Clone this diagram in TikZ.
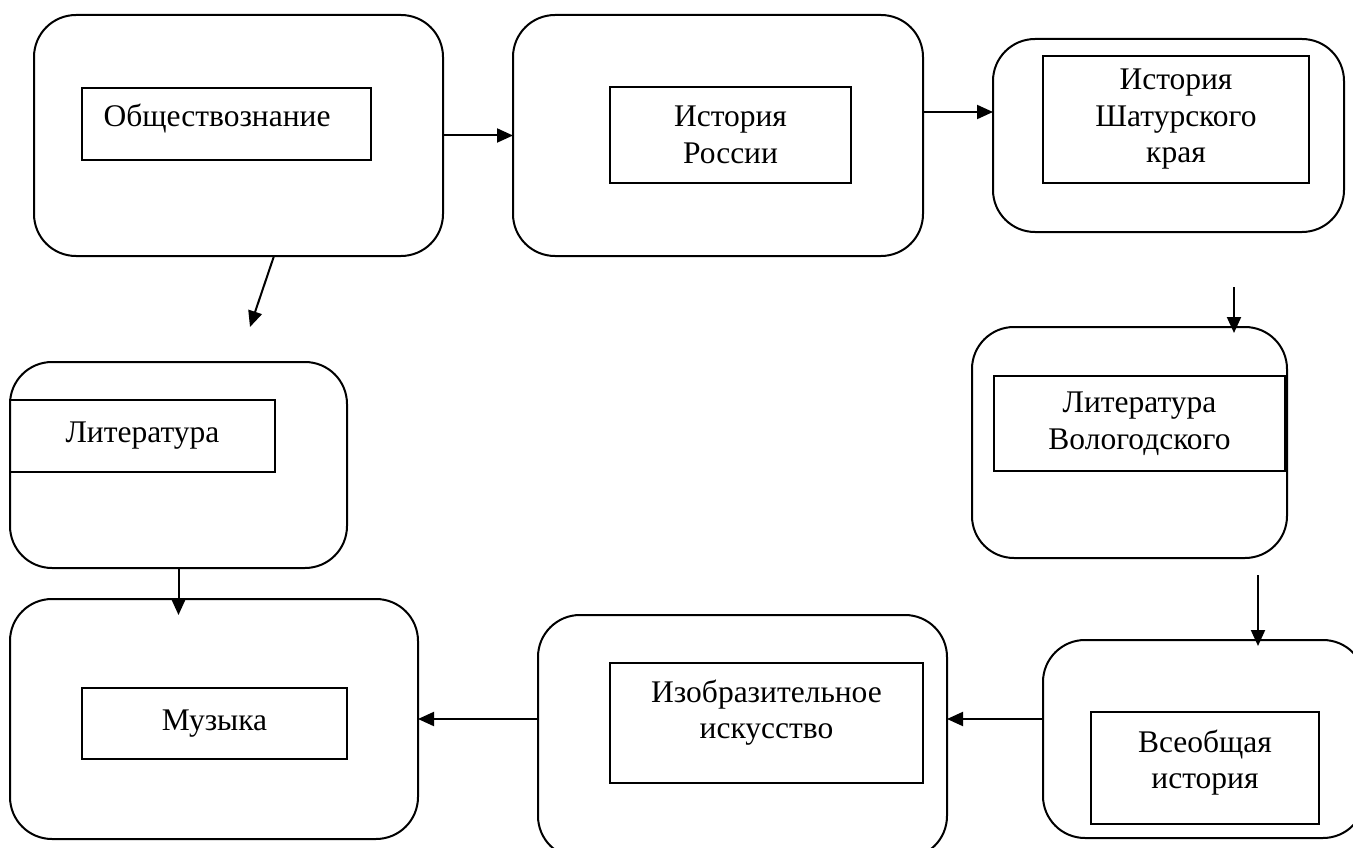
\documentclass[tikz,border=0pt]{standalone}
\usepackage{fontspec}
\setmainfont{Liberation Serif}
\usetikzlibrary{arrows.meta}
\begin{document}
\begin{tikzpicture}[x=1pt,y=-1pt,
  outerbox/.style={draw, line width=2pt, rounded corners=42pt, inner sep=0pt, outer sep=0pt},
  inbox/.style={draw, line width=2pt, inner sep=0pt, outer sep=0pt, font=\fontsize{31.5}{36.5}\selectfont},
  arr/.style={line width=2pt, -{Triangle[length=16pt,width=14pt]}}]
\useasboundingbox (0,0) rectangle (1353,848);
\clip (0,0) rectangle (1353,848);

% outer rounded boxes
\node[outerbox, minimum width=409pt, minimum height=241pt] (A) at (238.5,135.5) {};
\node[outerbox, minimum width=410pt, minimum height=241pt] (B) at (718,135.5) {};
\node[outerbox, minimum width=351pt, minimum height=193pt] (C) at (1168.5,135.5) {};
\node[outerbox, minimum width=315pt, minimum height=231pt] (D) at (1129.5,442.5) {};
\node[outerbox, minimum width=322pt, minimum height=198pt] (E) at (1204,739) {};
\node[outerbox, minimum width=409pt, minimum height=243pt] (F) at (742.5,736.5) {};
\node[outerbox, minimum width=408pt, minimum height=240pt] (G) at (214,719) {};
\node[outerbox, minimum width=337pt, minimum height=206pt] (L) at (178.5,465) {};

% inner labelled rectangles
\node[inbox, minimum width=289pt, minimum height=72pt] (Ai) at (226.5,124) {Обществознание\hspace*{19pt}\rule[-18pt]{0pt}{0pt}};
\node[inbox, align=center, minimum width=241pt, minimum height=96pt] (Bi) at (730.5,135) {История\\России};
\node[inbox, align=center, minimum width=266pt, minimum height=127pt] (Ci) at (1176,119.5) {История\\Шатурского\\края};
\node[inbox, align=center, minimum width=291pt, minimum height=95pt] (Di) at (1139.5,423.5) {Литература\\Вологодского};
\node[inbox, align=center, minimum width=228pt, minimum height=112pt] (Ei) at (1205,768) {Всеобщая\\история\rule[-17.5pt]{0pt}{0pt}};
\node[inbox, align=center, minimum width=313pt, minimum height=120pt] (Fi) at (766.5,723) {Изобразительное\\искусство\rule[-28pt]{0pt}{0pt}};
\node[inbox, minimum width=265pt, minimum height=71pt] (Gi) at (214.5,723.5) {Музыка};
\node[inbox, minimum width=265pt, minimum height=72pt] (Li) at (142.5,436) {Литература};

% connectors
\draw[arr] (A) -- (B);
\draw[arr] ([yshift=23.5pt]B.east) -- ([yshift=23.5pt]C.west);
\coordinate (cd) at (1234,287);
\draw[arr, shorten >=-6pt] (cd) -- (cd |- D.north);
\coordinate (de) at (1258,575);
\draw[arr, shorten >=-6pt] (de) -- (de |- E.north);
\coordinate (ef) at (0,719);
\draw[arr] (E.west |- ef) -- (F.east |- ef);
\draw[arr] (F.west |- ef) -- (G.east |- ef);
\draw[arr, shorten >=-16pt] (L.south) -- (L.south |- G.north);
\coordinate (al) at (250,327);
\draw[arr] ([xshift=35.5pt]A.south) -- (al);
\end{tikzpicture}
\end{document}
